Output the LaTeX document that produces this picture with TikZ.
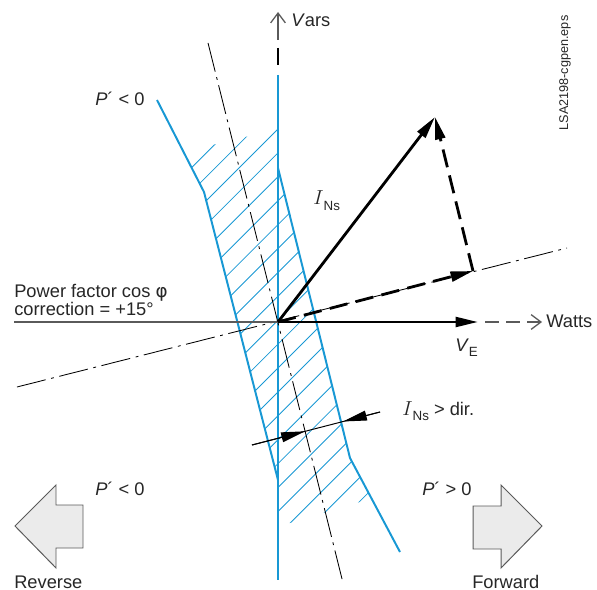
\documentclass[tikz,border=0pt]{standalone}
\usepackage{fontspec}
\setmainfont{Liberation Sans}
\newfontfamily\greekfont{DejaVu Sans}
\usetikzlibrary{arrows.meta}

\definecolor{relblue}{RGB}{24,152,212}
\definecolor{axisgray}{RGB}{90,90,90}
\definecolor{arrowfill}{RGB}{235,235,235}

\tikzset{
    zone/.style={relblue, line width=1.4pt},
    hatchline/.style={relblue, line width=0.6pt},
    chain/.style={black, line width=0.6pt, dash pattern=on 21pt off 4pt on 2pt off 4pt},
    vec/.style={black, line width=2pt, -{Triangle[length=16pt,width=7pt]}},
    vecdash/.style={vec, dash pattern=on 13pt off 6pt},
    axis/.style={axisgray, line width=0.9pt},
    openaxis/.style={axis, -{Straight Barb[length=7pt,width=10.5pt]}},
    blockarrow/.style={draw=axisgray, fill=arrowfill, line width=0.7pt, line join=miter},
    lbl/.style={font=\fontsize{13}{15}\selectfont, inner sep=0pt, text=black!85}
}

\begin{document}
\begin{tikzpicture}[x=0.025cm, y=-0.025cm]
    \useasboundingbox (0,0) rectangle (597,590);

    % axes and zone corners
    \coordinate (O) at (278,322);
    \coordinate (L1) at (157,100);
    \coordinate (L2) at (204,192);
    \coordinate (L3) at (278,480);
    \coordinate (R1) at (278,168);
    \coordinate (R2) at (350,458);
    \coordinate (R3) at (400,552);
    \coordinate (Vtop) at (278,75);
    \coordinate (Vbot) at (278,580);

    % hatching
    \begin{scope}
        \clip (183.7,152) -- (278,129) -- (R1) -- (R2) -- (371.5,498.5)
              -- (278,526.5) -- (L3) -- (L2) -- cycle;
        \foreach \k in {-3,...,20}
            \draw[hatchline] ({407+23.9*\k-600},600) -- ({407+23.9*\k},0);
    \end{scope}

    \draw[zone] (L1) -- (L2) -- (L3);
    \draw[zone] (R1) -- (R2) -- (R3);
    \draw[zone] (Vtop) -- (Vbot);

    % correction lines
    \coordinate (C1) at (208,43);
    \coordinate (C2) at (343,583);
    \coordinate (C3) at (17,387);
    \coordinate (C4) at (567,248);
    \draw[chain] (C1) -- (C2);
    \draw[chain] (C3) -- (C4);

    % Vars axis
    \coordinate (VA1) at (278,40);
    \coordinate (VA2) at (278,12);
    \coordinate (VD1) at (278,48);
    \coordinate (VD2) at (278,65);
    \draw[openaxis] (VA1) -- (VA2);
    \draw[black, line width=2pt] (VD1) -- (VD2);

    % Watts axis
    \coordinate (WL) at (14,322);
    \coordinate (VE) at (478,322);
    \coordinate (WD) at (485,322);
    \coordinate (WR) at (542,322);
    \draw[axis] (WL) -- (O);
    \draw[openaxis, dash pattern=on 10pt off 5pt] (WD) -- (WR);

    % vectors
    \coordinate (P) at (473,271);
    \coordinate (Q) at (435,117);
    \draw[vec] (O) -- (VE);
    \draw[vec] (O) -- (Q);
    \draw[vecdash] (O) -- (P);
    \draw[vecdash] (P) -- (Q);

    % pick-up arrows
    \coordinate (DL) at (252,445);
    \coordinate (DR) at (380,412);
    \coordinate (T1) at (305,431.3);
    \coordinate (T2) at (343,421.5);
    \draw[black, line width=0.7pt] (DL) -- (DR);
    \draw[black, line width=0.7pt, -{Triangle[length=17pt,width=7pt]}] (DL) -- (T1);
    \draw[black, line width=0.7pt, -{Triangle[length=17pt,width=7pt]}] (DR) -- (T2);

    % direction arrows
    \draw[blockarrow] (15,526) -- (56,485) -- (56,505) -- (83,505) -- (83,548)
        -- (56,548) -- (56,568) -- cycle;
    \draw[blockarrow] (542,526) -- (501,485) -- (501,506) -- (473,506) -- (473,549)
        -- (501,549) -- (501,568) -- cycle;

    % labels
    \node[lbl, anchor=base west] (vars) at (291,27) {\textit{V}ars};
    \node[lbl, anchor=base west] (watts) at (546,327) {Watts};
    \node[lbl, anchor=base west] (pf) at (14,297) {Power factor cos {\greekfont φ}};
    \node[lbl, anchor=base west] (corr) at (14,315) {correction = +15°};
    \node[lbl, anchor=base west] (pneg) at (95,106) {\textit{P}´ < 0};
    \node[lbl, anchor=base west] (ins) at (313,205) {{\fontsize{15}{16}\selectfont$I$}\raisebox{-0.55ex}{\fontsize{9.5}{10}\selectfont Ns}};
    \node[lbl, anchor=base west] (ve) at (455,351) {\textit{V}\raisebox{-0.6ex}{\fontsize{9.5}{10}\selectfont E}};
    \node[lbl, anchor=base west] (dir) at (402,415) {{\fontsize{15}{16}\selectfont$I$}\raisebox{-0.55ex}{\fontsize{9.5}{10}\selectfont Ns} > dir.};
    \node[lbl, anchor=base west] (prev) at (95,495) {\textit{P}´ < 0};
    \node[lbl, anchor=base west] (pfwd) at (422,495) {\textit{P}´ > 0};
    \node[lbl, anchor=base west] (rev) at (14,588) {Reverse};
    \node[lbl, anchor=base west] (fwd) at (472,588) {Forward};
    \node[lbl, rotate=90, font=\fontsize{9}{10}\selectfont] (file) at (565,73) {LSA2198-cgpen.eps};
\end{tikzpicture}
\end{document}
